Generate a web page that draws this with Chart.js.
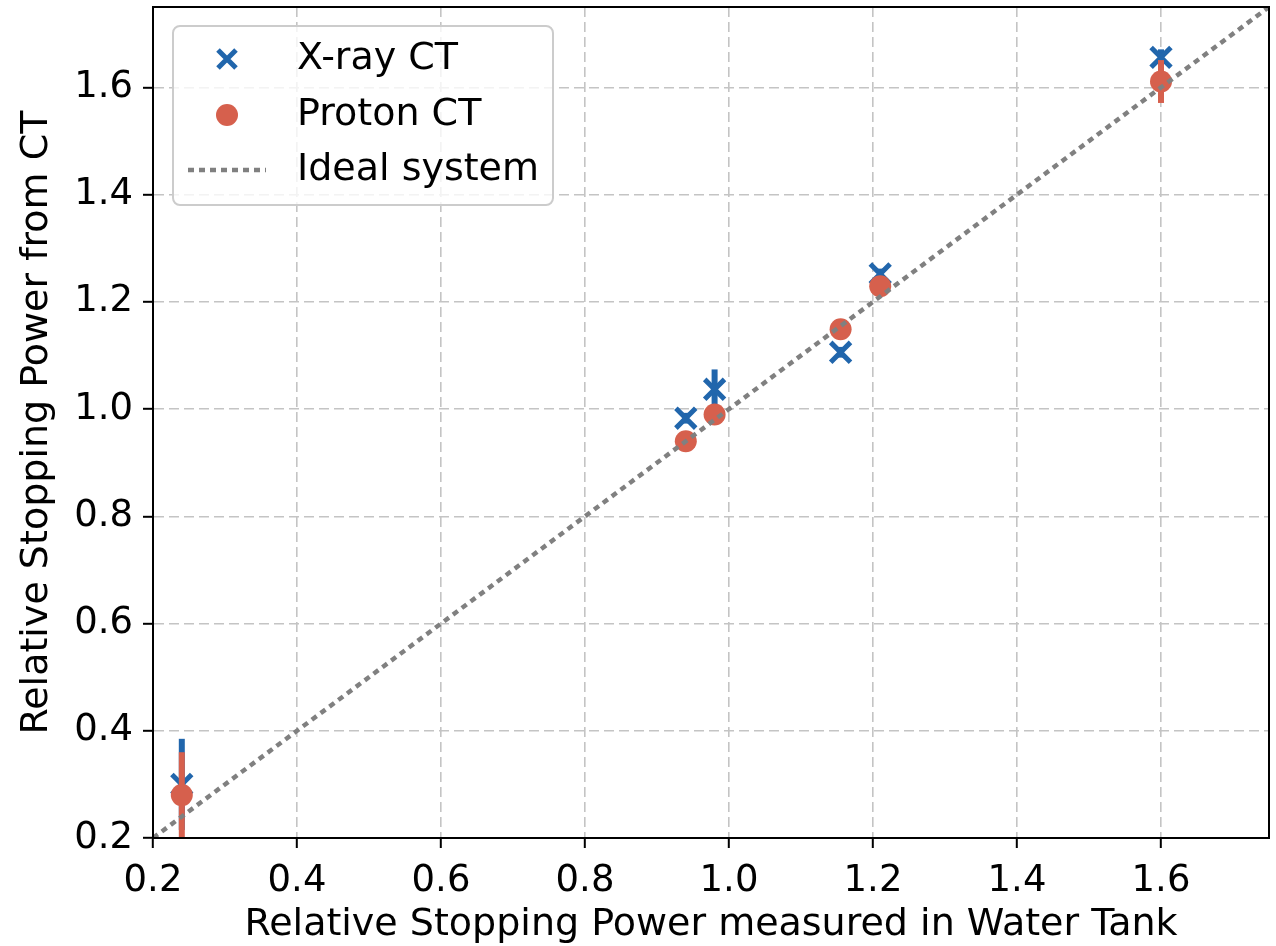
<!DOCTYPE html>
<html>
<head>
<meta charset="utf-8">
<script src="https://cdn.jsdelivr.net/npm/chart.js@4/dist/chart.umd.min.js"></script>
<style>
  html, body { margin: 0; padding: 0; background: #fff; }
  #chart { display: block; }
</style>
</head>
<body>
<canvas id="chart" width="1276" height="946"></canvas>
<script>
const waterTank = [0.24, 0.94, 0.98, 1.155, 1.21, 1.60];
const xrayRsp = [0.30, 0.983, 1.037, 1.106, 1.252, 1.656];
const xrayErr = [0.085, 0.01, 0.037, 0.01, 0.01, 0.015];
const protonRsp = [0.28, 0.94, 0.99, 1.149, 1.229, 1.611];
const protonErr = [0.08, 0.01, 0.01, 0.01, 0.01, 0.04];
const idealLine = [0.2, 1.75];
const tickValues = [0.2, 0.4, 0.6, 0.8, 1.0, 1.2, 1.4, 1.6];

const BLUE = "#2166ac";
const RED = "#d6604d";
const GRAY = "#808080";
const FONT = "'DejaVu Sans', sans-serif";

function toPoints(xs, ys) {
  return xs.map((x, i) => ({ x: x, y: ys[i] }));
}

// vertical error bars, drawn just under each dataset's markers
const errorBars = {
  id: "errorBars",
  beforeDatasetDraw(chart, args) {
    const ds = chart.data.datasets[args.index];
    if (!ds.errors) return;
    const { ctx, chartArea, scales } = chart;
    ctx.save();
    ctx.beginPath();
    ctx.rect(chartArea.left, chartArea.top, chartArea.right - chartArea.left, chartArea.bottom - chartArea.top);
    ctx.clip();
    ctx.strokeStyle = ds.borderColor;
    ctx.lineWidth = 6;
    ds.data.forEach((p, i) => {
      const px = scales.x.getPixelForValue(p.x);
      ctx.beginPath();
      ctx.moveTo(px, scales.y.getPixelForValue(p.y - ds.errors[i]));
      ctx.lineTo(px, scales.y.getPixelForValue(p.y + ds.errors[i]));
      ctx.stroke();
    });
    ctx.restore();
  }
};

// top/right spines and the boxed legend inside the plot
const frameAndLegend = {
  id: "frameAndLegend",
  afterDraw(chart) {
    const { ctx, chartArea } = chart;
    ctx.save();
    ctx.strokeStyle = "#000";
    ctx.lineWidth = 2;
    ctx.strokeRect(chartArea.left, chartArea.top, chartArea.right - chartArea.left, chartArea.bottom - chartArea.top);

    const bx = 173, by = 26, bw = 380, bh = 179;
    ctx.beginPath();
    ctx.roundRect(bx, by, bw, bh, 7);
    ctx.fillStyle = "rgba(255,255,255,0.8)";
    ctx.fill();
    ctx.strokeStyle = "#cccccc";
    ctx.lineWidth = 2;
    ctx.stroke();

    const mx = 227;
    const rows = [59, 115, 170];
    // X-ray marker
    ctx.strokeStyle = BLUE;
    ctx.lineWidth = 5;
    ctx.beginPath();
    ctx.moveTo(mx - 9, rows[0] - 9); ctx.lineTo(mx + 9, rows[0] + 9);
    ctx.moveTo(mx + 9, rows[0] - 9); ctx.lineTo(mx - 9, rows[0] + 9);
    ctx.stroke();
    // Proton marker
    ctx.fillStyle = RED;
    ctx.beginPath();
    ctx.arc(mx, rows[1], 11, 0, Math.PI * 2);
    ctx.fill();
    // Ideal line
    ctx.strokeStyle = GRAY;
    ctx.lineWidth = 4.5;
    ctx.setLineDash([6, 5]);
    ctx.beginPath();
    ctx.moveTo(188, rows[2]); ctx.lineTo(266, rows[2]);
    ctx.stroke();
    ctx.setLineDash([]);

    ctx.fillStyle = "#000";
    ctx.font = "38px " + FONT;
    ctx.textBaseline = "middle";
    ["X-ray CT", "Proton CT", "Ideal system"].forEach((t, i) => {
      ctx.fillText(t, 297, rows[i]);
    });
    ctx.restore();
  }
};

function axisOptions(title, isY) {
  return {
    type: "linear",
    min: 0.2,
    max: 1.75,
    afterBuildTicks(scale) {
      scale.ticks = tickValues.map(v => ({ value: v }));
    },
    afterFit(scale) {
      if (isY) scale.width = 153;
      else scale.height = 108;
      scale.paddingTop = 0;
      scale.paddingBottom = 0;
      scale.paddingLeft = 0;
      scale.paddingRight = 0;
    },
    ticks: {
      color: "#000",
      font: { family: FONT, size: 37 },
      padding: isY ? 10 : 11,
      callback: v => v.toFixed(1)
    },
    grid: {
      color: "#c4c4c4",
      lineWidth: 1.6,
      tickColor: "#000",
      tickWidth: 2,
      tickLength: 10
    },
    border: { display: true, color: "#000", width: 2, dash: [10, 5] },
    title: {
      display: true,
      text: title,
      color: "#000",
      font: { family: FONT, size: 38 },
      padding: isY ? { top: 14, bottom: 0 } : { top: 0, bottom: -2 }
    }
  };
}

new Chart(document.getElementById("chart"), {
  type: "scatter",
  data: {
    datasets: [
      {
        label: "Ideal system",
        type: "line",
        data: toPoints(idealLine, idealLine),
        borderColor: GRAY,
        borderWidth: 4.5,
        borderDash: [6, 5],
        pointRadius: 0,
        fill: false,
        order: 0
      },
      {
        label: "Proton CT",
        data: toPoints(waterTank, protonRsp),
        errors: protonErr,
        borderColor: RED,
        backgroundColor: RED,
        pointStyle: "circle",
        pointRadius: 11,
        borderWidth: 0,
        order: 1
      },
      {
        label: "X-ray CT",
        data: toPoints(waterTank, xrayRsp),
        errors: xrayErr,
        borderColor: BLUE,
        backgroundColor: BLUE,
        pointStyle: "crossRot",
        pointRadius: 14,
        borderWidth: 5,
        order: 2
      }
    ]
  },
  options: {
    responsive: false,
    animation: false,
    layout: { autoPadding: false, padding: { top: 7, right: 7, left: 0, bottom: 0 } },
    plugins: {
      legend: { display: false },
      tooltip: { enabled: false }
    },
    scales: {
      x: axisOptions("Relative Stopping Power measured in Water Tank", false),
      y: axisOptions("Relative Stopping Power from CT", true)
    }
  },
  plugins: [errorBars, frameAndLegend]
});
</script>
</body>
</html>
